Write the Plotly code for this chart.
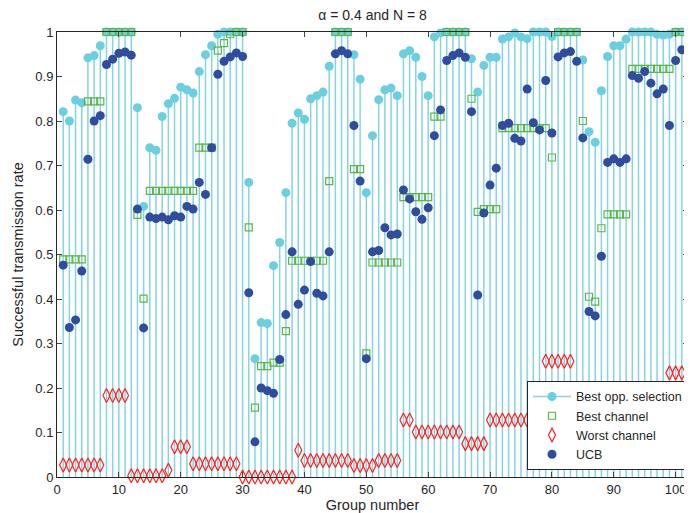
import plotly.graph_objects as go

groups = list(range(1, 102))

best_opp = [0.821, 0.800, 0.847, 0.841, 0.942, 0.947, 0.969, 1.0, 1.0, 1.0,
            1.0, 1.0, 0.830, 0.608, 0.740, 0.734, 0.810, 0.839, 0.851, 0.876,
            0.870, 0.863, 0.911, 0.949, 0.969, 0.995, 1.0, 1.0, 1.0, 1.0,
            0.662, 0.266, 0.347, 0.345, 0.475, 0.527, 0.639, 0.795, 0.818, 0.804,
            0.850, 0.857, 0.865, 0.923, 1.0, 1.0, 1.0, 0.949, 0.894, 0.639,
            0.767, 0.848, 0.870, 0.874, 0.857, 0.951, 0.958, 0.943, 0.900, 0.857,
            0.989, 0.998, 1.0, 1.0, 1.0, 1.0, 0.940, 0.865, 0.925, 0.943,
            0.943, 0.984, 0.989, 0.998, 0.989, 0.985, 1.0, 1.0, 1.0, 0.990,
            1.0, 1.0, 1.0, 1.0, 0.937, 0.776, 0.752, 0.868, 0.945, 0.969,
            0.969, 0.984, 1.0, 1.0, 1.0, 1.0, 0.995, 0.993, 0.995, 1.0,
            1.0]

best_channel = [0.489, 0.489, 0.489, 0.489, 0.844, 0.844, 0.844, 1.0, 1.0, 1.0,
                1.0, 1.0, 0.589, 0.401, 0.643, 0.643, 0.643, 0.643, 0.643, 0.643,
                0.643, 0.643, 0.740, 0.740, 0.740, 0.958, 0.975, 0.995, 1.0, 1.0,
                0.561, 0.156, 0.249, 0.249, 0.257, 0.257, 0.328, 0.486, 0.486, 0.486,
                0.486, 0.486, 0.486, 0.665, 1.0, 1.0, 1.0, 0.692, 0.692, 0.278,
                0.482, 0.482, 0.482, 0.482, 0.482, 0.629, 0.629, 0.629, 0.629, 0.629,
                0.810, 0.810, 1.0, 1.0, 1.0, 1.0, 0.850, 0.596, 0.602, 0.602,
                0.602, 0.784, 0.784, 0.784, 0.784, 0.784, 0.784, 0.784, 0.784, 0.718,
                1.0, 1.0, 1.0, 1.0, 0.800, 0.405, 0.394, 0.559, 0.590, 0.590,
                0.590, 0.590, 0.917, 0.917, 0.917, 0.917, 0.917, 0.917, 0.917, 1.0,
                1.0]

worst_channel = [0.027, 0.027, 0.027, 0.027, 0.027, 0.027, 0.027, 0.183, 0.183, 0.183,
                 0.183, 0.003, 0.003, 0.003, 0.003, 0.003, 0.003, 0.015, 0.068, 0.068,
                 0.068, 0.030, 0.030, 0.030, 0.030, 0.030, 0.030, 0.030, 0.030, 0.0,
                 0.0, 0.0, 0.0, 0.0, 0.0, 0.0, 0.0, 0.0, 0.060, 0.037,
                 0.037, 0.037, 0.037, 0.037, 0.037, 0.037, 0.037, 0.026, 0.026, 0.026,
                 0.026, 0.037, 0.037, 0.037, 0.037, 0.128, 0.128, 0.101, 0.101, 0.101,
                 0.101, 0.101, 0.101, 0.101, 0.101, 0.075, 0.075, 0.075, 0.075, 0.128,
                 0.128, 0.128, 0.128, 0.128, 0.128, 0.128, 0.128, 0.128, 0.260, 0.260,
                 0.260, 0.260, 0.260, 0.128, 0.128, 0.128, 0.128, 0.128, 0.128, 0.128,
                 0.128, 0.128, 0.128, 0.198, 0.198, 0.198, 0.198, 0.198, 0.234, 0.234,
                 0.234]

ucb = [0.476, 0.336, 0.353, 0.463, 0.714, 0.800, 0.812, 0.927, 0.939, 0.952,
       0.955, 0.948, 0.602, 0.335, 0.584, 0.581, 0.584, 0.578, 0.587, 0.584,
       0.608, 0.602, 0.662, 0.635, 0.740, 0.905, 0.934, 0.944, 0.953, 0.945,
       0.414, 0.079, 0.200, 0.194, 0.188, 0.264, 0.365, 0.506, 0.388, 0.420,
       0.484, 0.413, 0.407, 0.506, 0.951, 0.958, 0.951, 0.790, 0.665, 0.266,
       0.506, 0.509, 0.560, 0.544, 0.546, 0.645, 0.625, 0.596, 0.579, 0.605,
       0.767, 0.825, 0.936, 0.947, 0.953, 0.943, 0.821, 0.409, 0.593, 0.656,
       0.694, 0.790, 0.795, 0.761, 0.755, 0.872, 0.796, 0.780, 0.891, 0.773,
       0.944, 0.953, 0.956, 0.934, 0.762, 0.372, 0.362, 0.496, 0.707, 0.715,
       0.707, 0.715, 0.902, 0.896, 0.911, 0.885, 0.861, 0.872, 0.790, 0.936,
       0.960]

x_ticks = list(range(0, 101, 10))
y_ticks = [0, 0.1, 0.2, 0.3, 0.4, 0.5, 0.6, 0.7, 0.8, 0.9, 1]
y_tick_labels = ["0", "0.1", "0.2", "0.3", "0.4", "0.5", "0.6", "0.7", "0.8", "0.9", "1"]

CYAN = "#6ccfde"
STEM = "#86d4e2"
GREEN = "#5cb83c"
RED = "#ff2020"
BLUE = "#2f4c9e"
INK = "#262626"

stem_x, stem_y = [], []
for g, v in zip(groups, best_opp):
    stem_x += [g, g, None]
    stem_y += [0, v, None]

fig = go.Figure()
fig.add_trace(go.Scatter(x=stem_x, y=stem_y, mode="lines",
                         line=dict(color=STEM, width=1.5),
                         showlegend=False, hoverinfo="skip", cliponaxis=False))
fig.add_trace(go.Scatter(x=groups, y=best_opp, mode="markers",
                         marker=dict(color=CYAN, size=9),
                         showlegend=False, cliponaxis=False))
# legend entry for the stem series
fig.add_trace(go.Scatter(x=[None], y=[None], mode="lines+markers",
                         name="Best opp. selection",
                         line=dict(color=STEM, width=1.5),
                         marker=dict(color=CYAN, size=9)))
fig.add_trace(go.Scatter(x=groups, y=best_channel, mode="markers",
                         name="Best channel",
                         marker=dict(symbol="square-open", color=GREEN, size=7,
                                     line=dict(width=1.2)),
                         cliponaxis=False))
fig.add_trace(go.Scatter(x=groups, y=worst_channel, mode="markers",
                         name="Worst channel",
                         marker=dict(symbol="diamond-tall-open", color=RED, size=10,
                                     line=dict(width=1.2)),
                         cliponaxis=False))
fig.add_trace(go.Scatter(x=groups, y=ucb, mode="markers",
                         name="UCB",
                         marker=dict(color=BLUE, size=9),
                         cliponaxis=False))

# the page body has an 8px margin, so the figure is sized to fill the window from (8, 8)
fig.update_layout(
    width=684, height=505,
    margin=dict(l=49, r=4, t=24, b=36),
    paper_bgcolor="white", plot_bgcolor="white",
    font=dict(family="Liberation Sans, Arial, sans-serif", size=13, color=INK),
    title=dict(text="α = 0.4 and N = 8", x=0.5, xref="paper", xanchor="center",
               y=1 - 2 / 505, yanchor="top",
               font=dict(size=14, color=INK)),
    legend=dict(x=1.0, xanchor="right", y=0.016, yanchor="bottom",
                bgcolor="white", bordercolor=INK, borderwidth=1,
                font=dict(size=12.5, color=INK),
                tracegroupgap=0, itemwidth=38),
)
fig.update_xaxes(range=[0, 102], tickvals=x_ticks, ticks="inside", ticklen=5,
                 showline=True, linecolor=INK, linewidth=1, mirror="ticks",
                 showgrid=False, zeroline=False, automargin=False,
                 title=dict(text="Group number", standoff=0, font=dict(size=14.5)),
                 tickfont=dict(size=13))
fig.update_yaxes(range=[0, 1], tickvals=y_ticks, ticktext=y_tick_labels,
                 ticks="inside", ticklen=5,
                 showline=True, linecolor=INK, linewidth=1, mirror="ticks",
                 showgrid=False, zeroline=False, automargin=False,
                 title=dict(text="Successful transmission rate", standoff=8,
                            font=dict(size=14.5)),
                 tickfont=dict(size=13))

fig.write_html("out.html")
